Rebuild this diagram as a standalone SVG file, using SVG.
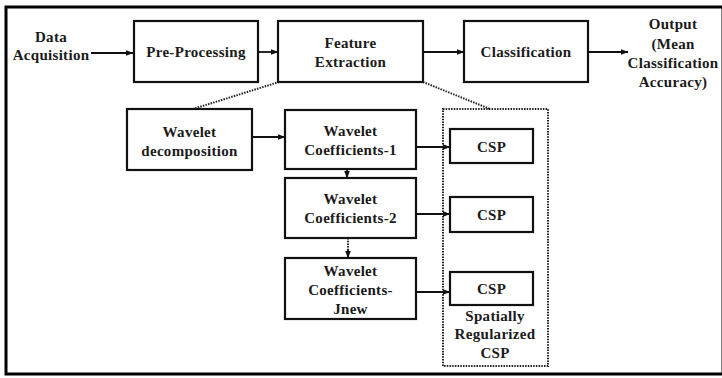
<svg xmlns="http://www.w3.org/2000/svg" width="722" height="378" viewBox="0 0 722 378">
<defs>
<marker id="ah" markerUnits="userSpaceOnUse" markerWidth="8" markerHeight="7" refX="7.5" refY="3.5" orient="auto">
<path d="M0,0.5 L8,3.5 L0,6.5 z" fill="#111"/>
</marker>
<style>
.box{fill:#fff;stroke:#111;stroke-width:2.2}
.t{font-family:"Liberation Serif","Times New Roman",serif;font-weight:bold;font-size:15px;fill:#1a1a1a;text-anchor:middle;letter-spacing:0.3px}
.ln{stroke:#111;stroke-width:1.8;fill:none}
.dot{stroke:#222;stroke-width:2;fill:none;stroke-dasharray:1.5 1.2}
</style>
</defs>
<rect x="0" y="0" width="722" height="378" fill="#fff"/>
<rect x="6" y="7" width="717" height="367" fill="none" stroke="#000" stroke-width="3"/>

<g id="connectors">
<line class="ln" x1="91" y1="53" x2="133" y2="53" marker-end="url(#ah)"/>
<line class="ln" x1="258" y1="52" x2="278" y2="52" marker-end="url(#ah)"/>
<line class="ln" x1="423" y1="52" x2="464" y2="52" marker-end="url(#ah)"/>
<line class="ln" x1="588" y1="52" x2="628" y2="52" marker-end="url(#ah)"/>
<line class="dot" x1="279" y1="82" x2="193" y2="109"/>
<line class="dot" x1="423" y1="82" x2="490" y2="109"/>
<line class="ln" x1="252" y1="137" x2="285" y2="137" marker-end="url(#ah)"/>
<line class="ln" x1="347" y1="169" x2="347" y2="178" marker-end="url(#ah)"/>
<line class="dot" x1="348" y1="238" x2="348" y2="252"/>
<line class="ln" x1="348" y1="250" x2="348" y2="258" marker-end="url(#ah)"/>
<line class="ln" x1="416" y1="147" x2="450" y2="147" marker-end="url(#ah)"/>
<line class="ln" x1="416" y1="214" x2="450" y2="214" marker-end="url(#ah)"/>
<line class="ln" x1="416" y1="292" x2="450" y2="292" marker-end="url(#ah)"/>
</g>

<g id="data-acquisition">
<text class="t" x="51" y="42">Data</text>
<text class="t" x="51" y="60">Acquisition</text>
</g>
<g id="pre-processing">
<rect class="box" x="134" y="21" width="124" height="61"/>
<text class="t" x="196" y="57">Pre-Processing</text>
</g>
<g id="feature-extraction">
<rect class="box" x="278" y="21" width="145" height="61"/>
<text class="t" x="350.5" y="47.5">Feature</text>
<text class="t" x="350.5" y="67">Extraction</text>
</g>
<g id="classification">
<rect class="box" x="464" y="21" width="124" height="61"/>
<text class="t" x="526" y="57">Classification</text>
</g>
<g id="output">
<text class="t" x="673" y="29">Output</text>
<text class="t" x="673" y="49">(Mean</text>
<text class="t" x="673" y="68">Classification</text>
<text class="t" x="673" y="87">Accuracy)</text>
</g>
<g id="wavelet-decomposition">
<rect class="box" x="127" y="109" width="125" height="61"/>
<text class="t" x="189.5" y="137">Wavelet</text>
<text class="t" x="189.5" y="155.5">decomposition</text>
</g>
<g id="wavelet-coefficients-1">
<rect class="box" x="285" y="110" width="131" height="59"/>
<text class="t" x="350.5" y="136">Wavelet</text>
<text class="t" x="350.5" y="155">Coefficients-1</text>
</g>
<g id="wavelet-coefficients-2">
<rect class="box" x="285" y="178" width="131" height="60"/>
<text class="t" x="350.5" y="203.5">Wavelet</text>
<text class="t" x="350.5" y="223">Coefficients-2</text>
</g>
<g id="wavelet-coefficients-jnew">
<rect class="box" x="285" y="258" width="131" height="61"/>
<text class="t" x="350.5" y="275.5">Wavelet</text>
<text class="t" x="350.5" y="295">Coefficients-</text>
<text class="t" x="350.5" y="313.5">Jnew</text>
</g>
<g id="spatially-regularized-csp">
<rect class="dot" x="443" y="109" width="105" height="257"/>
<text class="t" x="495" y="320.5">Spatially</text>
<text class="t" x="495" y="339">Regularized</text>
<text class="t" x="495" y="357.5">CSP</text>
</g>
<g id="csp-1">
<rect class="box" x="450" y="129" width="83" height="34"/>
<text class="t" x="491.5" y="152">CSP</text>
</g>
<g id="csp-2">
<rect class="box" x="450" y="197" width="83" height="35"/>
<text class="t" x="491.5" y="219.5">CSP</text>
</g>
<g id="csp-3">
<rect class="box" x="450" y="272" width="83" height="33"/>
<text class="t" x="491.5" y="294">CSP</text>
</g>
</svg>
